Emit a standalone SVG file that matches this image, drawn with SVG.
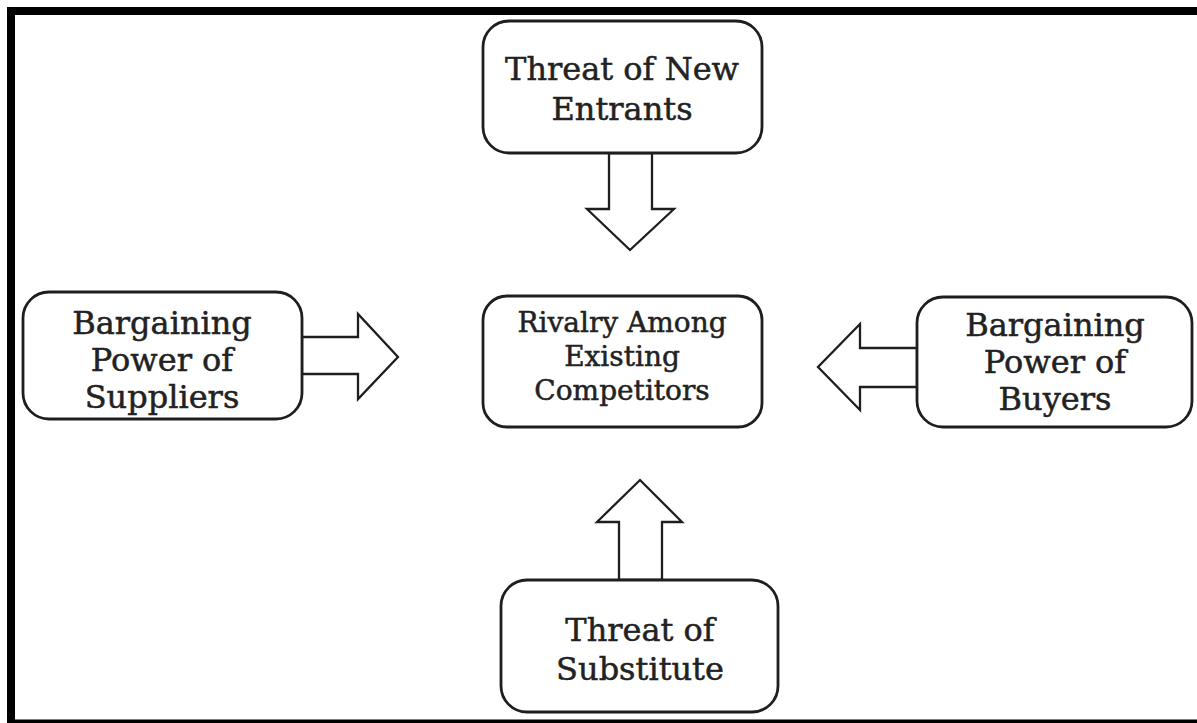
<svg xmlns="http://www.w3.org/2000/svg" width="1197" height="723" viewBox="0 0 1197 723">
  <style>
    .box { fill: #ffffff; stroke: #1e1e1e; stroke-width: 2.8; }
    .arrow { fill: #ffffff; stroke: #1e1e1e; stroke-width: 2.3; stroke-linejoin: miter; }
    .lbl { font-family: "DejaVu Serif", "Liberation Serif", serif; font-size: 32px; fill: #222222; stroke: #222222; stroke-width: 0.5; text-anchor: middle; }
    .lblc { font-family: "DejaVu Serif", "Liberation Serif", serif; font-size: 28px; fill: #222222; stroke: #222222; stroke-width: 0.5; text-anchor: middle; }
    .frame { fill: #000000; }
  </style>
  <rect x="0" y="0" width="1197" height="723" fill="#ffffff"/>
  <g id="frame">
    <rect class="frame" x="7" y="7" width="1190" height="8"/>
    <rect class="frame" x="7" y="7" width="8" height="716"/>
    <rect class="frame" x="7" y="719.5" width="1190" height="3.5"/>
  </g>
  <g id="connectors">
    <polygon class="arrow" points="609,153 652,153 652,209 674,209 630,250 587,209 609,209"/>
    <polygon class="arrow" points="302,337 358,337 358,314 398,357 358,399 358,374 302,374"/>
    <polygon class="arrow" points="917,348 860,348 860,324 818,367 860,410 860,387 917,387"/>
    <polygon class="arrow" points="619,580 619,522 597,522 640,480 682,522 662,522 662,580"/>
  </g>
  <g id="node-new-entrants">
    <rect class="box" x="483" y="21" width="279" height="132" rx="26" ry="26"/>
    <text class="lbl" x="622" y="80">Threat of New</text>
    <text class="lbl" x="622" y="120">Entrants</text>
  </g>
  <g id="node-suppliers">
    <rect class="box" x="23" y="292" width="279" height="127" rx="26" ry="26"/>
    <text class="lbl" x="162" y="334">Bargaining</text>
    <text class="lbl" x="162" y="371">Power of</text>
    <text class="lbl" x="162" y="408">Suppliers</text>
  </g>
  <g id="node-rivalry">
    <rect class="box" x="483" y="296" width="279" height="131" rx="24" ry="24"/>
    <text class="lblc" x="622" y="332">Rivalry Among</text>
    <text class="lblc" x="622" y="366">Existing</text>
    <text class="lblc" x="622" y="400">Competitors</text>
  </g>
  <g id="node-buyers">
    <rect class="box" x="917" y="297" width="275" height="130" rx="26" ry="26"/>
    <text class="lbl" x="1055" y="336">Bargaining</text>
    <text class="lbl" x="1055" y="373">Power of</text>
    <text class="lbl" x="1055" y="410">Buyers</text>
  </g>
  <g id="node-substitute">
    <rect class="box" x="501" y="580" width="277" height="132" rx="26" ry="26"/>
    <text class="lbl" x="640" y="641">Threat of</text>
    <text class="lbl" x="640" y="680">Substitute</text>
  </g>
</svg>
